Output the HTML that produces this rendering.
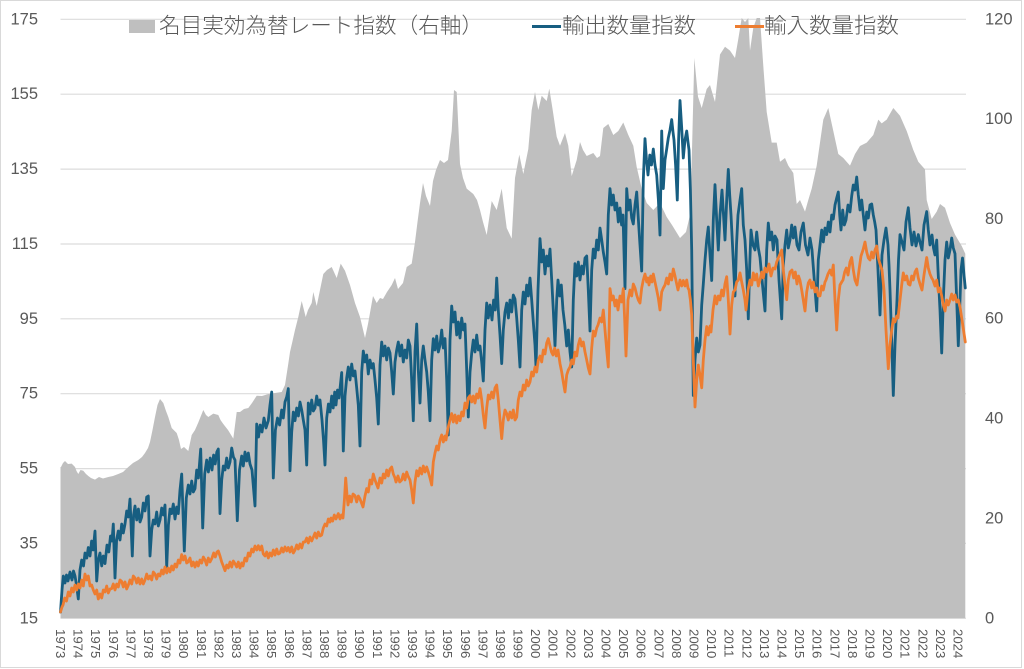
<!DOCTYPE html>
<html>
<head>
<meta charset="utf-8">
<style>
  html,body{margin:0;padding:0;background:#fff;}
  svg{display:block;}
  .ax{font-family:"Liberation Sans",Arial,sans-serif;font-size:16.5px;fill:#595959;dominant-baseline:central;}
  .yr{font-family:"Liberation Sans",Arial,sans-serif;font-size:13.2px;fill:#595959;dominant-baseline:central;}
  .lg{font-family:"Liberation Sans","Noto Sans CJK JP","Noto Sans CJK SC",sans-serif;font-size:21.5px;font-weight:300;fill:#595959;dominant-baseline:central;}
</style>
</head>
<body>
<svg width="1024" height="669" viewBox="0 0 1024 669" xmlns="http://www.w3.org/2000/svg">
  <rect x="0" y="0" width="1024" height="669" fill="#ffffff"/>
  <rect x="0.5" y="0.5" width="1021" height="667" fill="none" stroke="#d9d9d9" stroke-width="1"/>

  <!-- gridlines -->
  <g stroke="#dcdcdc" stroke-width="1.2">
    <line x1="60.5" x2="966" y1="19.3" y2="19.3"/>
    <line x1="60.5" x2="966" y1="94.2" y2="94.2"/>
    <line x1="60.5" x2="966" y1="169.1" y2="169.1"/>
    <line x1="60.5" x2="966" y1="244" y2="244"/>
    <line x1="60.5" x2="966" y1="318.8" y2="318.8"/>
    <line x1="60.5" x2="966" y1="393.7" y2="393.7"/>
    <line x1="60.5" x2="966" y1="468.6" y2="468.6"/>
    <line x1="60.5" x2="966" y1="543.4" y2="543.4"/>
    <line x1="60.5" x2="966" y1="618.3" y2="618.3"/>
  </g>

  <!-- NEER area -->
  <polygon fill="#bfbfbf" points="60.5,618.3 60.5,467 61,467 63,463 65,461 68,464 71.7,463.6 75,467 76.5,471 78.3,474 80.5,470 83.3,470.7 86,474 88.3,476 91,478 95,479.6 99,477 103,478.5 108.3,477 113,476 118.3,474 123,472 128.3,467 133,463 138.3,460 142,457 145,453 148,448 150,442 152.5,430 155,417 157.5,405 160,399 163.3,403 166,411 168.3,417 171.7,428 176.7,433 179,440 181,449 184,447 188.3,451 191.7,435 195,430 198.3,422.5 203.3,410 206,415 208.3,417 213.3,413.6 218.3,415 220.5,420 223.3,424 228,430 233.3,438.6 236.7,412 240,412 244,409 248.3,408 252,403 256.7,395.7 262,396 268.3,394 275,393 281.7,392 285,385 288.3,363.6 290,352 292.3,342 295,330 298.3,317 301.7,301 305.7,317 308,310 311.7,303 313.3,292 316.7,306 320,290 323.3,274 327,270 331.7,267 336.7,278 340.7,263.6 345,270.7 350,285 355,303 360,317 365,338 368,324 373,296 376.7,303 380,298 383,299 387,292 391.7,285 395,278 398,289 403,283 406.7,267 411.7,263.6 415,242 417.5,222 420,203 423,183 426,196 430,206 433,181 436,170 440,160 444,163 448,160 451.7,131 454,90 456.7,92 458.5,130 460,164 463,178 466.7,188.6 473.3,194 477,200 480,210 483,222 486.7,235 491.7,201 496.7,210 501.7,188.6 506.7,228 511.7,238.6 515,178 519.3,154.6 523.3,174 528.3,149 531.7,110 535,92 538.3,110 541.7,95.7 546.7,101 549.3,88.6 552.7,110 556.7,136.8 560,145.7 565,133 568.3,145.7 571.7,176 576.7,160 580,142 583,150 586.7,156 593.3,153 597,158 600,156 603.3,128 608.3,124 613.3,135 618.3,131 623.3,122.5 628.3,135 633.3,145.7 636.7,167 641.7,188.6 646.7,203 653.3,210 660,203 666.7,217 672,225 680,238 686,232 690,215 692,150 694.3,58 698,96.6 701.7,108 706.7,89 710,85 715,102 720,54.5 725,46.8 730,50.6 735,58 738.3,39 741.7,18 745,22 748.3,18 750,50.6 753.3,27.7 756.7,18 760,18 763.3,66 766.7,112 771.7,142.6 776.7,142.6 780,161.8 785,158 788.3,165.6 793.3,173 796.7,204 800,200 805,211.6 808.3,200 811.7,188.6 816.7,165.6 823.3,119.6 828.3,108 833.3,131 838.3,154 843.3,158 850,165.6 855,154 860,146 866.7,142.6 873.3,135 878.3,119.6 881.7,123.4 886.7,119.6 893.3,108 900,115.8 906.7,131 913.3,150 918.3,161.8 925,169.4 926.7,200 931.7,219 936.7,211.6 940,204 945,207.7 950,223 955,234.6 961.7,246 965.3,253.7 965.3,618.3"/>

  <!-- export volume -->
  <polyline fill="none" stroke="#175e81" stroke-width="2.8" stroke-linejoin="round" stroke-linecap="round" points="60.5,612 62,590 63.3,576 65,583 66.5,575 68,581 70,572 72,580 73.5,571 75,576 76.5,585 78.3,599 80,570 81.7,560 83.5,566 85,553 86.8,558 88.3,547.5 90,556 91.6,541 93.2,550 95,531 96.7,581 98.3,560 100,553 101.7,566 103.3,556 105,563.6 107,545 108.8,552 110.5,536 112,541 113.3,524 115,578 116.6,540 118.3,531 120,540 121.7,524 123.3,533 125,524 126.7,511 128.3,517 130,499 132.3,556 133.6,515 135,506 136.7,520 138.4,509 140,522 141.7,517 143.3,503 145,511 146.7,497 148.3,496 150,556 151.7,530 153.3,520 155,524 156.7,512 158.3,526 160,520 161.7,508 163.3,515 165,505 166.7,567 168.4,525 170,509 171.7,513.6 173.3,504 175,519 176.7,507 178.3,513.6 180,490 181.7,474 184.3,551 186.3,498 188.3,485 190,494 191.7,481 193.3,492 195,488.6 196.7,470 198.4,478 200.7,449 202.7,528 204.7,474 206.7,460 208.4,472 210.2,458 212,470 213.6,455 215.2,464 216.8,452 218.3,449 220,513.6 221.7,480 223.3,466 225,470 226.7,458 228.3,468 230,462 231.7,448 233.4,457 235,460 237.3,520.7 239.5,470 241.7,456 243.3,466 245,452 246.7,461 248.3,453 250,464 252,470 255,506 256.7,424 258.5,437 260.2,425 262,432 264,418 266,428 268.3,420.7 270,405 271.7,392 273.3,478 275.4,430 277.5,418 279.6,425 281.7,410 283.3,418 285,402 286.7,397 288.3,388.6 290,470.7 291.7,432 293.3,412 295,420.7 296.7,408 298.4,416 300,402 301.7,410 303.3,420 305,430 306.7,465 308.3,403 310,414 311.7,400 313.3,411 315,408 316.7,396 318.3,405 320,400 322,420 323.5,440 325,465 326.7,418 328.4,404 330,412 331.7,396 333.2,408 334.7,392 336,405 337.5,390 339,398 340.4,385 341.7,372.5 343.3,451 345,396 346.7,378 348.3,367 350,380 351.7,364 353.3,376 355,371 356.7,388 358.3,405 360,446 361.7,372 363.3,351 365,362 366.7,355 368.3,374 370,360 371.7,368 373.3,363.6 375,380 376.7,398 378.3,424 380,365 381.7,342 383.3,356 385,346 386.7,360 388.3,348 390,353 391.7,372 393.3,394 395,362 396.7,350 398.3,342 400,356 401.7,345 403.3,362 405,350 406.7,358 408.3,340 410,346 411.7,380 413.3,420.7 415,352 416.7,324 418.3,370 420,403 421.7,360 423.3,346 425,360 426.7,372 428.3,392 430,420.7 431.7,360 433.3,338.6 435,350 436.7,336 438.3,352 440,345 441.7,330 443.3,348 445,338.6 446.7,380 448.3,435 450,340 451.7,306 453.3,322 455,312 456.7,335 458.3,322 460,338 461.7,318 463.3,330 465,324 466.7,370 468.3,417 470,372 471.7,353 473.3,340 475,352 476.7,335 478.3,350 480,346 481.7,362 483.3,381 485,330 486.7,303 488.3,318 490,305 492,320 493.6,300 495.2,310 496.7,278 498.3,310 500,335 501.7,363.6 503.3,330 505,312 506.7,303 508.4,318 510,300 511.7,312 513.3,295 515,299 516.7,318 518.3,340 520,367 521.7,310 523.3,292 525,304 526.7,285 528.3,296 530,278 531.7,300 533.3,322 535,345 536,367 538,290 540,238.6 541.7,262 543.3,250 545,274 546.7,256 548.3,266 550,249 551.7,280 553.3,310 555,346 556.7,300 558,280 559.7,296 561.3,285 563,310 564.8,325 566.7,346 568.3,330 570,352 571.7,367 573.3,300 575,263.6 576.7,276 578.3,262 580,280 581.7,266 583.3,274 585,258 586.7,256 588.3,290 590,331 591.7,270 593.3,249 595,258 596.7,240 598.3,250 600,228 601.7,240 603.3,252 605,262 606.7,274 608.3,215 610,188.6 611.7,205 613.3,195 615,210 616.7,203 618.3,222 620,208 621.6,225 623,215 625,288.6 626.7,188.6 628.3,210 630,200 631.7,218 633.3,224 635,205 636.7,192 638.4,220 640,245 641.7,271 643.3,180 645,138.6 646.5,160 648,175 649.8,155 651.5,165 653.3,149 655,165 656.7,175 658.4,200 660,235 661.7,131 663.3,188.6 665,160 666.7,149 668.3,138 670,130 671.7,119.6 673,132 674,140 675.6,165 677.3,200 678.6,140 680,100.5 681.7,128 683.3,158 685,140 686.7,131 688,142 689,150 690.4,190 691.7,250 693.3,395.5 695,360 696.7,338 698.3,352 700,345 701.7,305 703.3,284 705,260 706.7,240 708.3,227 710,255 711.7,280.5 713.3,220 715,184.7 716.7,220 718.3,250 720,215 722,190 723.5,215 725,240 726.7,200 728.3,169.4 729.7,195 731,215 733,255 735,296 736.5,245 738,215 740,200 741.7,188.6 743.3,225 745,240 746.7,270 748.3,318.8 749.7,265 751,230 753,245 755,250 756.7,232 758.3,248 760,257.5 762.5,285 765,311 766.7,250 768.3,223 770,240 771.7,232 773.3,250 775,236 777,240 779,280 781.7,318.8 783.3,265 785,245 786.7,230 788.3,248 790,240 791.7,225 793.3,238 795,227 797,245 799,250 801,232 803.3,223 805.5,245 808,255 810,238 812,250 814.3,280 816.7,311 818.3,260 820,245 821.7,230 823.3,242 825,228 826.7,234.6 828.3,222 830,232 831.7,215 833.3,219 835,205 836.7,198 838.3,192 839.7,215 841,230 842.7,210 844.3,225 846,220 848,205 850,212 851.7,196 853.3,185 855,190 856.7,177 858.3,195 860,210 861.7,200 863.3,215 865,230 866.7,212 868.3,218 870,205 871.7,204 873.3,215 874.7,222 876,230 878,270 880,315 882,255 884,240 886,228 888,245 889,265 890,290 891.7,340 893.3,395.5 895,345 897,300 898.5,260 900,234.6 902,242 904,250 906,222 908.3,207.7 910,228 912,245 914,232 916,246 918.3,234.6 920,242 922,250 924,225 926.7,211.6 928.3,230 930,245 932,235 933.5,248 935,255 936.7,240 938,270 940,310 941.7,353 943.3,300 945,260 946.7,242 948.3,258 950,250 951.7,238 953.3,248 955,253.7 956.7,300 958.3,345.7 960,300 961,270 962.5,258 964,275 965.3,288"/>

  <!-- import volume -->
  <polyline fill="none" stroke="#ed7d31" stroke-width="2.8" stroke-linejoin="round" stroke-linecap="round" points="60.5,612 62,607 63,605 64.7,598 66.5,601 68.3,592 70,596 71.7,588 73.3,592 75,585 76.7,590 78.3,584 80,588 81.7,580 83.3,586 85,574 86.7,580 88.3,576 90,586 91.7,585 93.3,590 95,594 96.7,590 98.3,599 100,594 101.7,598 103.3,590 105,592 106.7,586 108.3,593 110,589 111.7,588.6 113.3,584 115,590 116.7,584 118.3,587 120,580 121.7,581.4 123.3,587 125,582 126.7,589 128,586 130,580 131.7,584 133.3,576 135,578 136.7,583 138.3,578 140,584 141.7,579 143.3,584 145,580 146.7,574 148.3,579 150,576 151.7,580 153.3,572 155,574 156.7,579 158.3,574 160,576 161.7,570 163.3,574 165,567 166.7,573 168.3,568 170,572 171.7,566 173.3,570 175,564 176.7,567 178.3,560 180,563 181.7,554.6 183.3,560 185,556 186.7,563 188,562 190,558 191.7,566 193.3,562 195,567 196.7,562 198.3,566 200,560 201.7,563 203.3,557 205,560 206.7,565 208.3,558 210,562 212,558 213.7,553 215.3,557 217,552 218.3,551 220,556 221.7,562 223.3,566 225,570.7 226.7,565 228.3,568 230,562 231.7,567 233.3,561 235,563.6 236.7,567 238.3,562 240,568 241.7,563 243,566 245,558 246.7,561 248.3,553 250,556 251.7,549 253.3,552 255,546 256.7,550 258.3,545.7 260,550 261.7,546 263.3,554 265,556 266.7,552 268.3,558 270,553 271.7,556 273.3,550 275,555 276.7,549 278.3,554 280,553 281.7,548 283.3,552 285,547 286.7,551 288.3,547.5 290,552 291.7,547 293.3,553 295,550 296.7,545 298.3,549 300,544 301.7,548 303.3,542 305,542 306.7,538 308.3,543 310,537 311.7,541 313,538 315,533 316.7,538 318.3,532 320,536 321.7,535 323.3,528 325,524 326.7,526 328.3,519 330,522 331,518 332.7,521 334.3,515 336,519 338.3,513.6 340,519 341.5,515 343,518 344.4,500 345.7,478 347,495 348,505 349.7,496 351.3,502 353,494 355,495.7 356.7,502 358.3,496 360,499 361.5,503 363,507 365,496 366.7,488.6 368.3,492 370,480 371.7,484 373.3,474 375,480 376.5,484 378,488 380,478 381.7,483 383.3,474 385,478 386.7,470 388.3,476 390,469 391.7,467 393.3,474 395,478 396,482 398,476 399.7,482 401.7,480 403.3,474 405,480 406.7,472 408,476 410,480 411.7,490 413.3,503 415,482 416.7,470.7 418.3,476 420,468 421.7,474 423.3,466 425,472 426.7,467 428.3,472 430,478 431.7,485 433.3,462 435,453 436.7,446 438.3,450 440,440 441.7,435 443.3,442 445,436 446,440 448,428 450,420 451.7,413.6 453.3,422 455,415 456.7,423 458.3,416 460,420.7 461.7,412 463.3,416 465,403 466.7,408 468.3,398 470,395.7 471.7,402 473.3,396 475,403 476.7,394 478.3,398 480,388.6 481.7,400 483.3,415 485,428 486.7,408 488.3,395 490,399 491.7,392 493.3,398 495,388 496.7,385 498.3,400 500,420 501.7,438.6 503.3,420 505,410 506.7,413.6 508.3,420 510,412 511.7,418 513.3,410 515,420 516.7,417 518.3,400 520,392 521.7,396 523.3,385 525,390 526.7,380 528.3,386 530,382 531.7,372 533.3,376 535,367 536.7,372 538.3,360 540,356 541.7,362 543.3,350 545,354 546.7,343 548.3,338.6 550,346 551.5,352 553,355 554.7,348 556.3,356 558,350 560,363.6 561.7,372 563.3,382 565,392 566.7,375 568.3,370 570,367 571.7,360 573.3,364 575,352 576.7,356 578.3,345 580,338.6 581.7,346 583.3,342 585,352 586.7,360 588.3,368 590,374 591.7,348 593.3,331 595,336 596.7,328 598,325 600,318 601.7,322 603.3,310 605,330 606.7,350 608.3,367 610,288.6 611.7,300 613.3,296 615,306 616.5,300 618,310 620,296 621.7,302 623.3,288.6 624.7,320 626,356 628,300 630,290 631.7,296 633.3,284 635,288 636.7,295 638.3,300 640,303 641.7,288 643.3,280 645,274 646.7,282 648,278 649,285 650.7,276 652,282 653.3,274 655,282 656.7,290 658.3,298 660,310 661.7,292 663.3,288 665,285 666.7,278 668.3,284 670,274 671.7,280 673.3,269 675,276 676.7,284 678,290 680,280 681.7,286 683.3,280.5 685,286 686.7,280 688,288 689,290 690.4,300 691.7,315 693.3,360 695,407 696.7,380 698.3,365 700,375 701.7,387.8 703.3,360 705,340 706.7,326.5 708.3,335 710,326 711,332 713,310 715,295.9 716.7,304 718.3,296 720,300 721.7,290 723.3,296 725,284 726.7,276.7 728.3,300 730,334 731.7,305 733.3,292 735,290 736.7,282 738.3,280 740,272.9 741.7,282 743.3,290 745,300 746,310 748,290 750,280 751.7,285 753.3,272.9 755,280 756.7,274 758.3,286 760,280 761.7,272 763.3,278 765,268 767,272 769,264 771,276 773,268 775,269 776.7,262 778.3,258 780,254 781.7,250 783.3,270 785,285 786.7,299.7 788.3,280 790,272 792,270 793.7,278 795.3,272 797,284 798.5,276 800,280.5 801.7,290 803.3,300 805,311 806.7,292 808.3,283 810,280 811.7,288 813.3,282 815,292 816.7,288 818.3,296 820,295.9 821.7,286 823.3,290 825,282 826,280 828,274 830,270 831.7,275 833.3,265 835,300 836.7,330 838.3,300 840,285 841.7,282 843,280 844.7,272 846.3,268 848,275 850,262 851.7,257.5 853.3,270 855,280 857,285 859,270 861,256 863,250 865,242 866.7,252 868.3,258 870,260 871.7,252 873.3,258 875,250 876.7,246 878.3,258 880,264 882,270 884,290 886,330 888.3,368.7 890,345 891.7,330 893.3,318.8 895,322 896.7,316 898,318 900,300 901.7,285 903.3,272.9 905,280 906.7,276 908.3,284 910,285 911.7,276 913.3,280 915,272 916.7,269 918.3,278 920,284 922,290 924,275 926.7,257.5 928.3,268 930,274 931.7,278 933,280 935,286 936.7,280 938.3,292 940,288 941.7,296 943.3,305 945,311 946.7,300 948.3,305 950,300 951.7,294 953.3,300 955,295 956.7,302 958.3,300 960,307 961.7,318 963.5,330 965.3,342"/>

  <!-- left axis labels -->
  <g class="ax" text-anchor="end">
    <text x="38" y="19.3">175</text>
    <text x="38" y="94.2">155</text>
    <text x="38" y="169.1">135</text>
    <text x="38" y="244">115</text>
    <text x="38" y="318.8">95</text>
    <text x="38" y="393.7">75</text>
    <text x="38" y="468.6">55</text>
    <text x="38" y="543.4">35</text>
    <text x="38" y="618.3">15</text>
  </g>
  <!-- right axis labels -->
  <g class="ax" text-anchor="start">
    <text x="985" y="19.3">120</text>
    <text x="985" y="119.1">100</text>
    <text x="985" y="218.9">80</text>
    <text x="985" y="318.7">60</text>
    <text x="985" y="418.5">40</text>
    <text x="985" y="518.5">20</text>
    <text x="985" y="618.3">0</text>
  </g>

  <!-- year labels -->
  <g class="yr">
    <text transform="translate(60.5,629) rotate(90)">1973</text>
    <text transform="translate(78.1,629) rotate(90)">1974</text>
    <text transform="translate(95.7,629) rotate(90)">1975</text>
    <text transform="translate(113.3,629) rotate(90)">1976</text>
    <text transform="translate(130.9,629) rotate(90)">1977</text>
    <text transform="translate(148.5,629) rotate(90)">1978</text>
    <text transform="translate(166.1,629) rotate(90)">1979</text>
    <text transform="translate(183.7,629) rotate(90)">1980</text>
    <text transform="translate(201.3,629) rotate(90)">1981</text>
    <text transform="translate(218.9,629) rotate(90)">1982</text>
    <text transform="translate(236.5,629) rotate(90)">1983</text>
    <text transform="translate(254.1,629) rotate(90)">1984</text>
    <text transform="translate(271.7,629) rotate(90)">1985</text>
    <text transform="translate(289.3,629) rotate(90)">1986</text>
    <text transform="translate(306.9,629) rotate(90)">1987</text>
    <text transform="translate(324.5,629) rotate(90)">1988</text>
    <text transform="translate(342.1,629) rotate(90)">1989</text>
    <text transform="translate(359.7,629) rotate(90)">1990</text>
    <text transform="translate(377.3,629) rotate(90)">1991</text>
    <text transform="translate(394.9,629) rotate(90)">1992</text>
    <text transform="translate(412.5,629) rotate(90)">1993</text>
    <text transform="translate(430.1,629) rotate(90)">1994</text>
    <text transform="translate(447.7,629) rotate(90)">1995</text>
    <text transform="translate(465.3,629) rotate(90)">1996</text>
    <text transform="translate(482.9,629) rotate(90)">1997</text>
    <text transform="translate(500.5,629) rotate(90)">1998</text>
    <text transform="translate(518.0,629) rotate(90)">1999</text>
    <text transform="translate(535.6,629) rotate(90)">2000</text>
    <text transform="translate(553.2,629) rotate(90)">2001</text>
    <text transform="translate(570.8,629) rotate(90)">2002</text>
    <text transform="translate(588.4,629) rotate(90)">2003</text>
    <text transform="translate(606.0,629) rotate(90)">2004</text>
    <text transform="translate(623.6,629) rotate(90)">2005</text>
    <text transform="translate(641.2,629) rotate(90)">2006</text>
    <text transform="translate(658.8,629) rotate(90)">2007</text>
    <text transform="translate(676.4,629) rotate(90)">2008</text>
    <text transform="translate(694.0,629) rotate(90)">2009</text>
    <text transform="translate(711.6,629) rotate(90)">2010</text>
    <text transform="translate(729.2,629) rotate(90)">2011</text>
    <text transform="translate(746.8,629) rotate(90)">2012</text>
    <text transform="translate(764.4,629) rotate(90)">2013</text>
    <text transform="translate(782.0,629) rotate(90)">2014</text>
    <text transform="translate(799.6,629) rotate(90)">2015</text>
    <text transform="translate(817.2,629) rotate(90)">2016</text>
    <text transform="translate(834.8,629) rotate(90)">2017</text>
    <text transform="translate(852.4,629) rotate(90)">2018</text>
    <text transform="translate(870.0,629) rotate(90)">2019</text>
    <text transform="translate(887.6,629) rotate(90)">2020</text>
    <text transform="translate(905.2,629) rotate(90)">2021</text>
    <text transform="translate(922.8,629) rotate(90)">2022</text>
    <text transform="translate(940.4,629) rotate(90)">2023</text>
    <text transform="translate(958.0,629) rotate(90)">2024</text>
  </g>

  <!-- legend -->
  <rect x="129" y="20" width="26" height="13" fill="#bfbfbf"/>
  <text class="lg" x="159" y="26" textLength="324" lengthAdjust="spacingAndGlyphs">名目実効為替レート指数（右軸）</text>
  <line x1="532" x2="561" y1="26.5" y2="26.5" stroke="#175e81" stroke-width="3"/>
  <text class="lg" x="562" y="26" textLength="134" lengthAdjust="spacingAndGlyphs">輸出数量指数</text>
  <line x1="735" x2="764" y1="26.5" y2="26.5" stroke="#ed7d31" stroke-width="3"/>
  <text class="lg" x="764" y="26" textLength="135" lengthAdjust="spacingAndGlyphs">輸入数量指数</text>
</svg>
</body>
</html>
